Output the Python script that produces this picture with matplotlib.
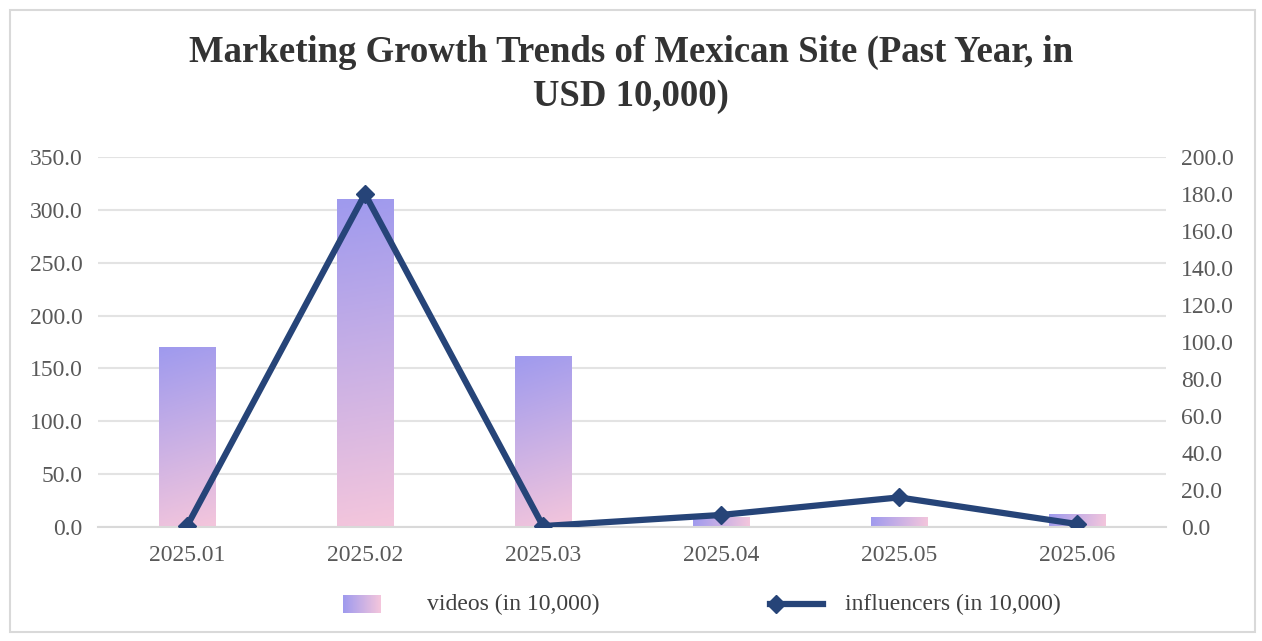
import matplotlib
matplotlib.use("Agg")
import matplotlib.pyplot as plt
import numpy as np
from matplotlib.patches import Rectangle
from matplotlib.colors import LinearSegmentedColormap

categories = ["2025.01", "2025.02", "2025.03", "2025.04", "2025.05", "2025.06"]
videos = [170.0, 310.0, 162.0, 9.5, 9.5, 12.3]
influencers = [0.5, 180.0, 0.5, 6.5, 16.0, 1.6]

plt.rcParams['font.family'] = ['Liberation Serif', 'DejaVu Serif']

fig = plt.figure(figsize=(12.62, 6.41), dpi=100)
ax = fig.add_axes([98/1262, 1 - 527/641, (1166-98)/1262, (527-157)/641])
ax2 = ax.twinx()

cmap = LinearSegmentedColormap.from_list("g", ["#9f9aee", "#f4c6dc"])
x = np.arange(len(categories))
bw = 0.32
ax.set_xlim(-0.5, len(categories) - 0.5)
ax.set_ylim(0, 350)
bars = ax.bar(x, videos, width=bw, color="none", zorder=2)
uu, vv = np.meshgrid(np.linspace(0, 1, 80), np.linspace(0, 1, 80))
for b in bars:
    x0, y0, w, h = b.get_x(), b.get_y(), b.get_width(), b.get_height()
    p0 = ax.transData.transform((x0, y0))
    p1 = ax.transData.transform((x0 + w, y0 + h))
    pw, ph = abs(p1[0] - p0[0]), abs(p1[1] - p0[1])
    grad = (uu * pw**2 + vv * ph**2) / (pw**2 + ph**2)
    im = ax.imshow(grad, cmap=cmap, extent=[x0, x0 + w, y0, y0 + h], origin="upper",
                   aspect="auto", zorder=2, interpolation="bilinear")
    im.set_clip_path(b)

ax.set_xlim(-0.5, len(categories) - 0.5)
ax.set_ylim(0, 350)
ax.set_yticks(np.arange(0, 351, 50))
ax.set_yticklabels([f"{v:.1f}" for v in np.arange(0, 351, 50)])
ax.set_xticks(x)
ax.set_xticklabels(categories)
ax.yaxis.grid(True, color="#e3e3e3", linewidth=1.5, zorder=0)
ax.set_axisbelow(True)

line_color = "#264478"
ax2.plot(x, influencers, color=line_color, linewidth=4.5, marker="D", markersize=9,
         solid_capstyle="round", zorder=5)
ax2.set_ylim(0, 200)
ax2.set_yticks(np.arange(0, 201, 20))
ax2.set_yticklabels([f"{v:.1f}" for v in np.arange(0, 201, 20)])

for a in (ax, ax2):
    for s in a.spines.values():
        s.set_visible(False)
    a.tick_params(length=0, labelsize=17, colors="#595959")
ax.spines['bottom'].set_visible(True)
ax.spines['bottom'].set_color("#d9d9d9")
ax.spines['bottom'].set_linewidth(1.5)
ax.tick_params(axis='x', pad=13)
ax.tick_params(axis='y', pad=11)
ax2.tick_params(axis='y', pad=11)

fig.text(0.5, 1 - 52/641, "Marketing Growth Trends of Mexican Site (Past Year, in", ha="center",
         va="center", fontsize=26.5, fontweight="bold", color="#333333")
fig.text(0.5, 1 - 97/641, "USD 10,000)", ha="center", va="center", fontsize=26.5,
         fontweight="bold", color="#333333")

# legend
lax = fig.add_axes([0, 0, 1, 1], facecolor="none")
lax.set_xlim(0, 1262)
lax.set_ylim(641, 0)
lax.axis("off")
lax.imshow(uu, cmap=cmap, extent=[343, 381, 613, 595], aspect="auto", interpolation="bilinear")
lax.text(427, 604, "videos (in 10,000)", va="center", ha="left", fontsize=17, color="#404040")
lax.plot([770, 823], [604, 604], color=line_color, linewidth=4.5)
lax.plot([776], [604], color=line_color, marker="D", markersize=9)
lax.text(845, 604, "influencers (in 10,000)", va="center", ha="left", fontsize=17, color="#404040")
lax.add_patch(Rectangle((10, 10), 1245, 622, fill=False, edgecolor="#d9d9d9", linewidth=1.5))

fig.savefig("out.png", dpi=100)
